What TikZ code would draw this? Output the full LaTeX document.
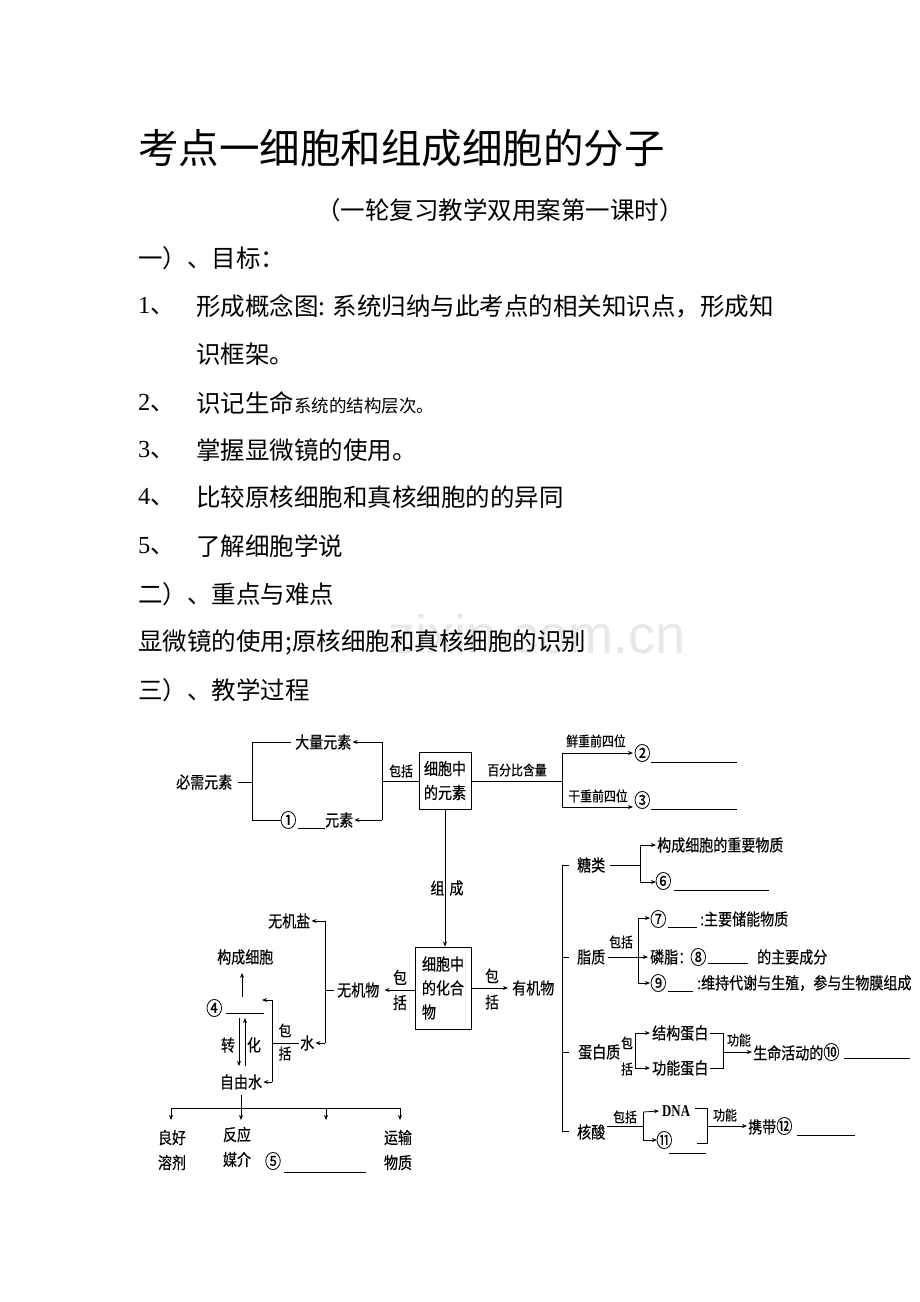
\documentclass[tikz,border=0pt]{standalone}
\usepackage{fontspec}
\setmainfont{Liberation Serif}
\newfontfamily\cjk{Noto Sans CJK SC}
\newfontfamily\dg[FakeStretch=0.85,FakeBold=0.4]{Noto Sans CJK SC}
\newfontfamily\dgl[FakeStretch=0.78]{Liberation Serif}
\newfontfamily\ser{Liberation Serif}
\newfontfamily\wmk{Liberation Sans}
\newcommand{\cn}[1]{{\fontsize{19}{19}\selectfont #1}}
\usetikzlibrary{arrows.meta,calc}
\tikzset{
 tx/.style={inner sep=0pt,anchor=west,font=\dg\fontsize{16.5}{18}\selectfont},
 tc/.style={inner sep=0pt,font=\dg\fontsize{16.5}{18}\selectfont},
 sl/.style={inner sep=0pt,font=\dg\fontsize{14}{15}\selectfont},
 vl/.style={inner sep=0pt,align=center,font=\dg\fontsize{16.5}{25}\selectfont},
 vs/.style={inner sep=0pt,align=center,font=\dg\fontsize{14}{26}\selectfont},
 bd/.style={inner sep=0pt,anchor=west,font=\cjk\fontsize{24.5}{26}\selectfont},
 ln/.style={line width=0.8pt},
 ar/.style={line width=0.8pt,-{Stealth[length=5pt,width=4pt]}},
 bl/.style={line width=0.7pt},
 bx/.style={draw,line width=0.9pt,inner sep=0pt,align=left,font=\dg\fontsize{16.5}{24}\selectfont},
}
\begin{document}
\begin{tikzpicture}[x=1pt,y=-1pt]
\useasboundingbox (0,0) rectangle (920,1302);
\fill[white] (0,0) rectangle (920,1302);
% watermark
\node[inner sep=0pt,text=black!9,font=\wmk\fontsize{54}{56}\selectfont] (wm) at (537,634) {zixin.com.cn};
% header text
\node[inner sep=0pt,anchor=west,font=\cjk\fontsize{40.5}{42}\selectfont] (title) at (138,148) {考点一细胞和组成细胞的分子};
\node[bd] (sub) at (316,210) {（一轮复习教学双用案第一课时）};
\node[bd] (h1) at (138,258) {一）、目标：};
\node[bd] (i1) at (138,306) {{\ser 1}、};
\node[bd] (t1) at (196,306) {形成概念图: 系统归纳与此考点的相关知识点，形成知};
\node[bd] (t1b) at (196,354) {识框架。};
\node[bd] (i2) at (138,403) {{\ser 2}、};
\node[bd] (t2) at (196,403) {识记生命{\fontsize{17.5}{19}\selectfont 系统的结构层次。}};
\node[bd] (i3) at (138,450) {{\ser 3}、};
\node[bd] (t3) at (196,450) {掌握显微镜的使用。};
\node[bd] (i4) at (138,497) {{\ser 4}、};
\node[bd] (t4) at (196,497) {比较原核细胞和真核细胞的的异同};
\node[bd] (i5) at (138,546) {{\ser 5}、};
\node[bd] (t5) at (196,546) {了解细胞学说};
\node[bd] (h2) at (138,594) {二）、重点与难点};
\node[bd] (t6) at (138,642) {显微镜的使用;原核细胞和真核细胞的识别};
\node[bd] (h3) at (138,690) {三）、教学过程};

% ===== top-left: elements =====
\node[tx] (bx) at (176,782) {必需元素};
\node[tx] (dl) at (295,742) {大量元素};
\node[tx] (n1) at (280,820) {\cn{①}};
\node[tx] (ys) at (325,820) {元素};
\draw[bl] ([xshift=1pt,yshift=-8pt]n1.east) -- ++(27,0);
\coordinate (LA) at (252,742);
\coordinate (LB) at (252,820);
\coordinate (LM) at (252,782);
\draw[ln] ([xshift=5pt]bx.east) -- (LM);
\draw[ln] ([xshift=-4pt]dl.west) -- (LA) -- (LB) -- ([xshift=1pt]n1.west);
\coordinate (RA) at (382,742);
\coordinate (RB) at (382,820);
\coordinate (RM) at (382,781);
\draw[ln] (RA) -- (RB);
\draw[ar] (RA) -- ([xshift=1pt]dl.east);
\draw[ar] (RB) -- ([xshift=1pt]ys.east);
\node[bx,minimum width=52pt,minimum height=57pt] (el) at (445,780.5) {细胞中\\的元素};
\draw[ln] (RM) -- (el.west |- RM);
\node[sl] (lb1) at (401,771) {包括};
\coordinate (PM) at (562,781);
\coordinate (PA) at (562,753);
\coordinate (PB) at (562,807);
\draw[ln] (el.east |- PM) -- (PM);
\draw[ln] (PA) -- (PB);
\node[sl] (lb2) at (517,770) {百分比含量};
\node[tx] (n2) at (634,753) {\cn{②}};
\node[tx] (n3) at (634,800) {\cn{③}};
\draw[ar] (PA) -- ([xshift=-1pt]n2.west);
\draw[ar] (PB) -- (633,807);
\node[sl] (lb3) at (596,741) {鲜重前四位};
\node[sl] (lb4) at (598,796) {干重前四位};
\draw[bl] ([yshift=-9pt]n2.east) -- ++(86,0);
\draw[bl] ([yshift=-9pt]n3.east) -- ++(86,0);

% ===== compound box =====
\node[bx,minimum width=56pt,minimum height=82pt] (cp) at (443,988) {细胞中\\的化合\\物};
\draw[ar] (el.south) -- (el.south |- cp.north);
\node[tc] (zc1) at (437.5,888) {组};
\node[tc] (zc2) at (456.5,888) {成};

% ===== inorganic =====
\node[tx] (wj) at (337,990) {无机物};
\draw[ar] (cp.west |- wj.east) -- ([xshift=5pt]wj.east);
\node[vl] (lb5) at (400,990) {包\\括};
\coordinate (VA) at (325,921);
\coordinate (VB) at (325,1043);
\coordinate (VM) at (325,990);
\draw[ln] (VA) -- (VB);
\draw[ln] (VM) -- ([xshift=-3pt]wj.west);
\node[tx] (wjy) at (268,921) {无机盐};
\draw[ar] (VA) -- ([xshift=1pt]wjy.east);
\node[tx] (sh) at (300,1043) {水};
\draw[ar] (VB) -- ([xshift=1pt]sh.east);
\node[tx] (n4) at (206,1008) {\cn{④}};
\draw[bl] ([xshift=3pt,yshift=-5pt]n4.east) -- ++(38,0);
\node[tx] (gc) at (217,957) {构成细胞};
\coordinate (G0) at (242,997);
\draw[ar] (G0) -- ([yshift=-8pt]G0 |- gc.south);
\coordinate (WA) at (272,1000);
\coordinate (WB) at (272,1082);
\coordinate (WM) at (272,1043);
\coordinate (W4) at (262,1000);
\draw[ar] (WA) -- (W4);
\draw[ln] (WA) -- (WB);
\draw[ln] (WM) -- ([xshift=-1pt]sh.west);
\node[vl,font=\dg\fontsize{15}{23}\selectfont] (lb6) at (285,1042) {包\\括};
\node[tc] (zy) at (241,1082) {自由水};
\draw[ar] (WB) -- ([xshift=1pt]zy.east);
\coordinate (TA) at (239,1018);
\coordinate (TB) at (239,1066);
\coordinate (UA) at (245,1066);
\coordinate (UB) at (245,1018);
\draw[ar] (TA) -- (TB);
\draw[ar] (UA) -- (UB);
\node[tc] (zh1) at (228,1045) {转};
\node[tc] (zh2) at (254,1045) {化};
\coordinate (H1) at (171,1108);
\coordinate (H3) at (326,1108);
\coordinate (H4) at (400,1108);
\draw[ln] (H1) -- (H4);
\draw[ar] ([yshift=-5pt]zy.south) -- (241,1120);
\draw[ar] (H1) -- ++(0,12);
\draw[ar] (H3) -- ++(0,12);
\draw[ar] (H4) -- ++(0,12);
\node[vl] (lh) at (172,1150) {良好\\溶剂};
\node[vl] (fy) at (237,1147) {反应\\媒介};
\node[vl] (yw) at (398,1150) {运输\\物质};
\node[tc] (n5) at (273,1161) {\cn{⑤}};
\draw[bl] ([xshift=3pt,yshift=-11pt]n5.east) -- ++(82,0);

% ===== organic =====
\node[tx] (yj) at (512,988) {有机物};
\draw[ar] (cp.east) -- ([xshift=-4pt]yj.west);
\node[vl,font=\dg\fontsize{16}{26}\selectfont] (lb7) at (492,989) {包\\括};
\node[tx] (tl) at (577,865) {糖类};
\node[tx] (zz) at (577,957) {脂质};
\node[tx] (db) at (578,1052) {蛋白质};
\node[tx] (hs) at (577,1132) {核酸};
\coordinate (BA) at (562,865);
\coordinate (BB) at (562,1131);
\draw[ln] ([xshift=-8pt]tl.west) -- (BA) -- (BB) -- ([xshift=-8pt]hs.west |- BB);
\draw[ln] (zz.west -| BA) -- ([xshift=-8pt]zz.west);
\draw[ln] (db.west -| BA) -- ([xshift=-9pt]db.west);

% sugars
\coordinate (SM) at (640,865);
\coordinate (SA) at (640,845);
\coordinate (SB) at (640,882);
\draw[ln] ([xshift=5pt]tl.east) -- (SM);
\draw[ln] (SA) -- (SB);
\node[tx] (gz) at (657,845) {构成细胞的重要物质};
\node[tx] (n6) at (655,881) {\cn{⑥}};
\draw[ar] (SA) -- ([xshift=-1pt]gz.west);
\draw[ar] (SB) -- (656,882);
\draw[bl] ([xshift=2pt,yshift=-9pt]n6.east) -- ++(95,0);

% lipids
\node[sl] (lb8) at (621,942) {包括};
\coordinate (ZA) at (638,918);
\coordinate (ZB) at (638,983);
\draw[ln] (ZA) -- (ZB);
\node[tx] (n7) at (650,919) {\cn{⑦}};
\node[tx] (t7) at (700,919) {:主要储能物质};
\node[tx] (lz) at (650,957) {磷脂：};
\node[tx] (n8) at (690,957) {\cn{⑧}};
\node[tx] (t8) at (757,957) {的主要成分};
\node[tx] (n9) at (650,983) {\cn{⑨}};
\node[tx] (t9) at (697,983) {:维持代谢与生殖，参与生物膜组成};
\draw[ar] ([xshift=3pt]zz.east) -- ([xshift=-2pt]lz.west);
\draw[ar] (ZA) -- (650,918);
\draw[ar] (ZB) -- (650,983);
\draw[bl] ([xshift=1pt,yshift=-8pt]n7.east) -- ++(29,0);
\draw[bl] ([xshift=1pt,yshift=-6pt]n8.east) -- ++(40,0);
\draw[bl] ([xshift=1pt,yshift=-8pt]n9.east) -- ++(25,0);

% proteins
\node[vs] (lb9) at (627,1056) {包\\括};
\coordinate (DA) at (635,1033);
\coordinate (DB) at (635,1068);
\draw[ln] (DA) -- (DB);
\node[tx] (jg) at (652,1033) {结构蛋白};
\node[tx] (gn) at (652,1068) {功能蛋白};
\draw[ar] (DA) -- ([xshift=-2pt]jg.west);
\draw[ar] (DB) -- ([xshift=-2pt]gn.west);
\coordinate (EA) at (723,1033);
\coordinate (EB) at (723,1068);
\coordinate (EM) at (723,1052);
\draw[ln] ([xshift=1pt]jg.east) -- (EA) -- (EB) -- ([xshift=1pt]gn.east);
\node[tx] (sm) at (753,1052) {生命活动的\cn{⑩}};
\draw[ar] (EM) -- ([xshift=-1pt]sm.west);
\node[sl] (lb10) at (739,1040) {功能};
\draw[bl] ([xshift=4pt,yshift=-6pt]sm.east) -- ++(66,0);

% nucleic acids
\coordinate (KA) at (643,1112);
\coordinate (KB) at (643,1140);
\coordinate (KM) at (643,1126);
\draw[ln] ($(hs.east)+(2,-6)$) -- (KM);
\draw[ln] (KA) -- (KB);
\node[sl] (lb11) at (625,1117) {包括};
\node[tx,font=\dgl\bfseries\fontsize{16.5}{18}\selectfont] (dna) at (662,1111) {DNA};
\node[tx] (n11) at (656,1140) {\cn{⑪}};
\draw[ar] (KA) -- ([xshift=-3pt]dna.west);
\draw[ar] (KB) -- ([xshift=1pt]n11.west);
\draw[bl] ([xshift=-4pt,yshift=-13pt]n11.east) -- ++(37,0);
\coordinate (FA) at (707,1108);
\coordinate (FB) at (707,1143);
\coordinate (FM) at (707,1126);
\draw[ln] ([xshift=5pt,yshift=3pt]dna.east) -- (FA) -- (FB) -- (697,1143);
\node[tx] (xd) at (748,1126) {携带\cn{⑫}};
\draw[ar] (FM) -- ([xshift=-1pt]xd.west);
\node[sl] (lb12) at (725,1115) {功能};
\draw[bl] ([xshift=4pt,yshift=-9pt]xd.east) -- ++(58,0);
\end{tikzpicture}
\end{document}
